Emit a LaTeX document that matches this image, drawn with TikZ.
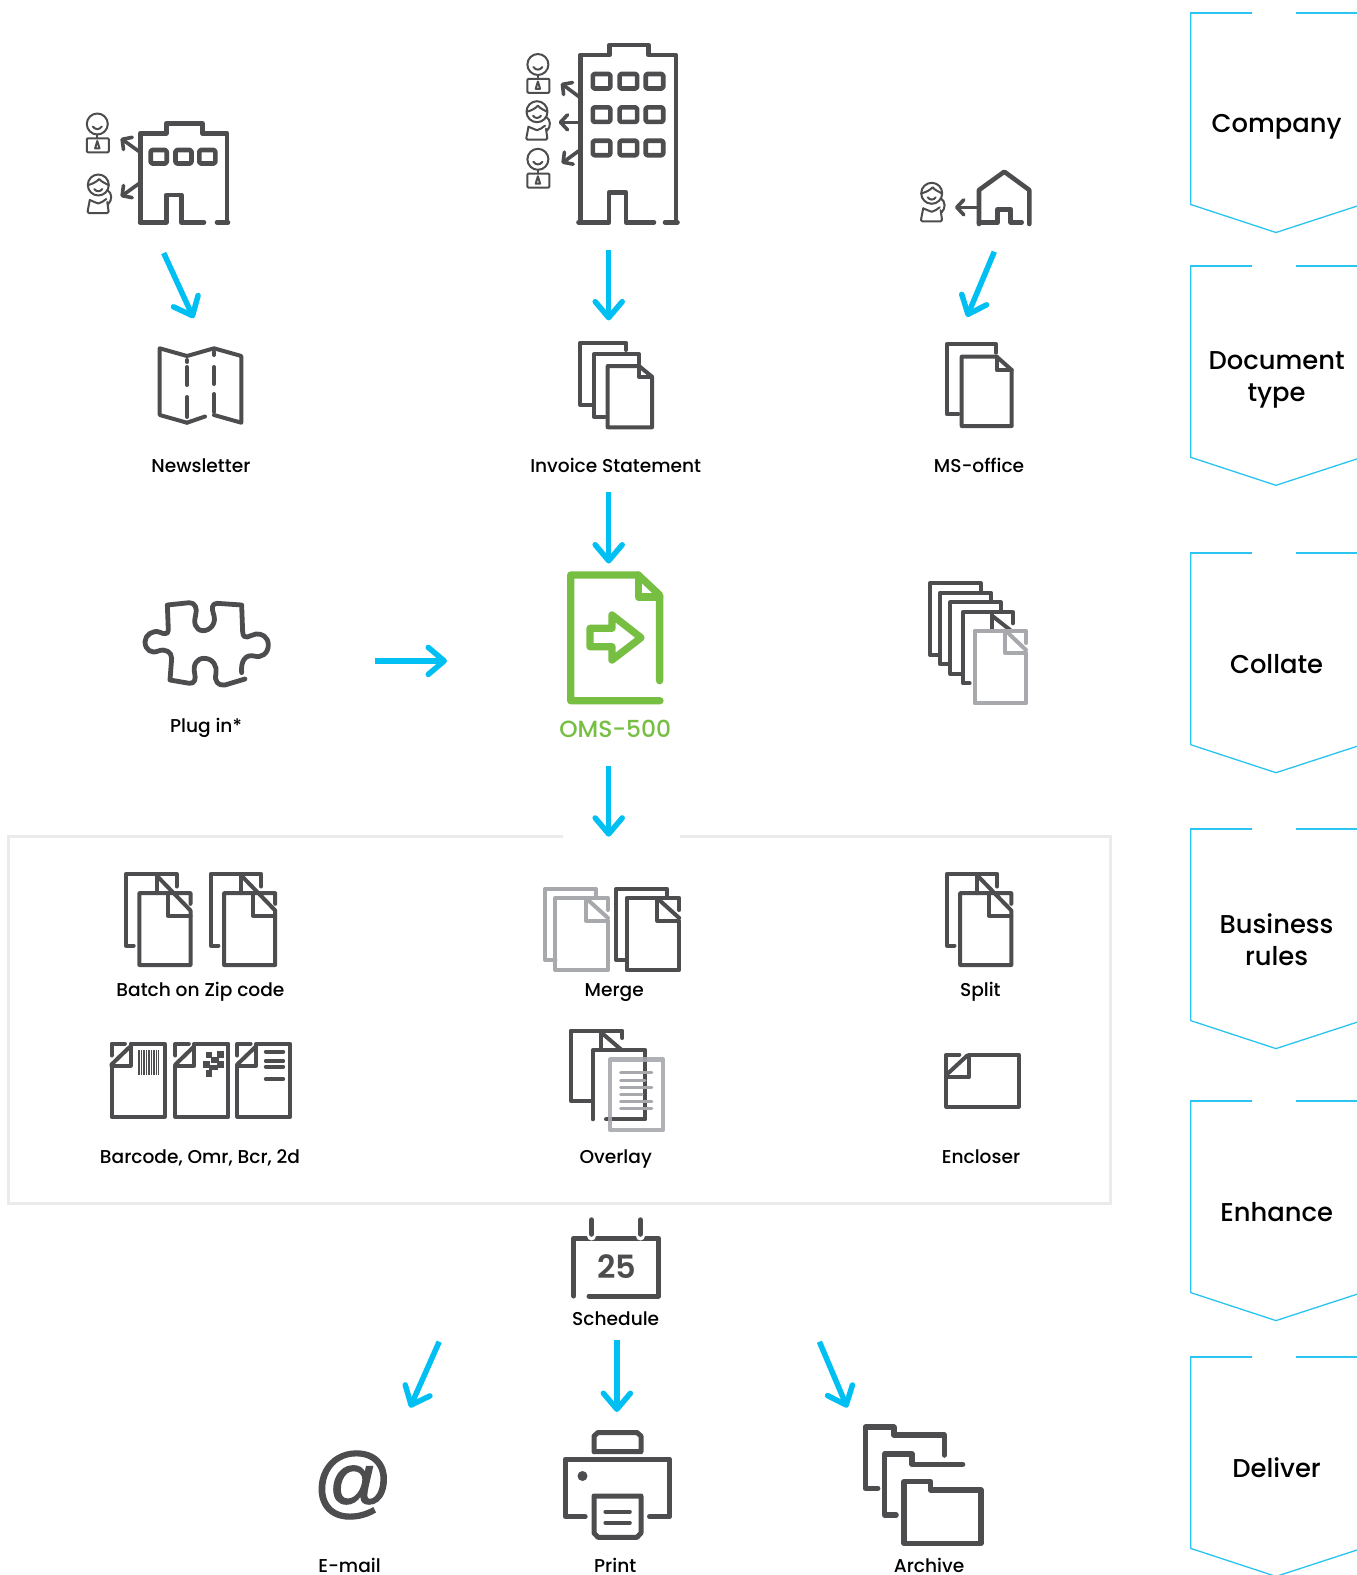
\documentclass[tikz,border=0pt]{standalone}
\usepackage{fontspec}
\setmainfont{Poppins}[UprightFont=* Medium,BoldFont=* SemiBold]
\newfontfamily\atfont{Liberation Sans}[ItalicFeatures={FakeBold=1.6}]
\usetikzlibrary{arrows.meta}
\definecolor{ink}{HTML}{4D4D4F}
\definecolor{pale}{HTML}{A7A9AC}
\definecolor{sky}{HTML}{00BFF3}
\definecolor{leaf}{HTML}{76BF43}
\definecolor{frame}{HTML}{EBEBEB}
\definecolor{tab}{HTML}{29C4F0}
\tikzset{
  icon/.style={draw=#1,line width=4pt,line join=round,line cap=round},
  icon/.default=ink,
  person/.style={draw=ink,line width=2pt,line join=round,line cap=round},
  flow/.style={draw=sky,line width=5.5pt,shorten >=-2pt,-{Straight Barb[length=16pt,width=27pt,round]}},
  out arrow/.style={draw=ink,line width=3.6pt,-{Straight Barb[length=7pt,width=15pt,round]}},
  lab/.style={anchor=base,inner sep=0pt,font=\fontsize{18.6}{22}\selectfont,text=black},
  big/.style={anchor=base,inner sep=0pt,font=\fontsize{25.8}{32}\selectfont,text=black},
  pics/man/.style={code={
    \draw[person] (0,0) circle (10.5);
    \draw[person] (-4.5,2.5) .. controls (-2,6) and (2,6) .. (4.5,2.5);
    \draw[person,rounded corners=1pt] (-10.5,14.3) rectangle (11.5,28.3);
    \draw[person] (0,10.5) -- (0,14.3);
    \draw[person] (-2.2,24.3) -- (2.2,24.3) -- (0,17) -- cycle;
  }},
  pics/woman/.style={code={
    \draw[person] (0,0) circle (10.5);
    \draw[person] (-10,0) .. controls (-6,-1) and (-2,-3) .. (1,-6) .. controls (3,-3) and (7,-2) .. (10,0);
    \draw[person] (-4,4) .. controls (-2,7) and (2,7) .. (4,4);
    \draw[person] (9,5) .. controls (14,8) and (14,15) .. (10,19);
    \draw[person,rounded corners=1.5pt] (-8.5,15) -- (-11,28) -- (10.5,28) -- (9,17);
    \draw[person] (-8.5,15) .. controls (-5,16) and (-3,18) .. (0,18.5) .. controls (3,18) and (5,16) .. (8,14);
  }},
  pics/pairdoc/.style={code={
    \draw[icon=#1] (7.7,71.7) -- (0,71.7) -- (0,0) -- (50.5,0) -- (50.5,12.7);
    \draw[icon=#1] (30.6,1.7) -- (30.6,19.4);
    \draw[icon=#1] (30.6,1.7) -- (64.5,36.7) -- (64.5,91.2) -- (13.4,91.2) -- (13.4,19.4) -- (64.5,19.4) -- (64.5,30);
    \draw[icon=#1] (42,19.4) -- (42,41.7) -- (64.5,41.7);
  }},
  pics/cornerdoc/.style={code={
    \draw[icon] (0,11.7) -- (0,0) -- (13.4,0);
    \draw[icon] (0,21.7) -- (0,72.9) -- (53,72.9) -- (53,0) -- (19,0) -- (19,21.7) -- (0,21.7);
    \draw[icon] (0,20.7) -- (18,3.3);
  }},
  pics/mergedoc/.style={code={
    \draw[icon=#1] (10.4,71) -- (0,71) -- (0,0) -- (51,0) -- (51,9);
    \draw[icon=#1] (41,9) -- (41,31.7) -- (63,31.7) -- (63,81) -- (10.4,81) -- (10.4,9) -- (63,9) -- (63,21);
    \draw[icon=#1] (43,11) -- (63,29);
  }},
}
\newcommand{\Flow}[3]{\coordinate (#1-a) at (#2);\coordinate (#1-b) at (#3);\draw[flow] (#1-a) -- (#1-b);}
\newcommand{\OutArrow}[3]{\coordinate (#1-a) at (#2);\coordinate (#1-b) at (#3);\draw[out arrow] (#1-a) -- (#1-b);}
\newcommand{\Tab}[1]{%
  \draw[tab,line width=1.3pt] (1190.7,#1) -- (1190.7,#1+191.6) -- (1276,#1+219.6) -- (1357,#1+193.2);
  \draw[tab,line width=2pt] (1251.7,#1) -- (1190.2,#1);
  \draw[tab,line width=2pt] (1296,#1) -- (1357,#1);}
\begin{document}
\begin{tikzpicture}[x=1pt,y=-1pt]
\useasboundingbox (0,0) rectangle (1357,1575);
\fill[white] (0,0) rectangle (1357,1575);

% ---- side tabs
\Tab{12.9}\Tab{265.7}\Tab{553.1}\Tab{829}\Tab{1101}\Tab{1356.8}
\node[big] (tcompany) at (1276.6,132.7) {Company};
\node[big] (tdoc1) at (1276.6,369.6) {Document};
\node[big] (tdoc2) at (1276.6,401.8) {type};
\node[big] (tcollate) at (1276.6,673) {Collate};
\node[big] (tbus1) at (1276.6,933) {Business};
\node[big] (tbus2) at (1276.6,965) {rules};
\node[big] (tenh) at (1276.6,1221.4) {Enhance};
\node[big] (tdel) at (1276.6,1477.5) {Deliver};

% ---- frame
\draw[frame,line width=3pt] (562.5,836.7) -- (8,836.7) -- (8,1203.3) -- (1110.5,1203.3) -- (1110.5,836.7) -- (680,836.7);

% ---- small building
\begin{scope}[icon/.append style={line width=4.6pt}]
\draw[icon] (140.2,222.3) -- (140.2,133.3) -- (166.2,133.3) -- (166.2,123.3) -- (202.2,123.3) -- (202.2,133.3) -- (227,133.3) -- (227,222.3);
\draw[icon] (140.2,222.3) -- (166.2,222.3) -- (166.2,195) -- (181.4,195) -- (181.4,222.3) -- (204,222.3);
\draw[icon] (217,222.3) -- (228,222.3);
\foreach \x in {150.7,175.5,199.3}
  \draw[icon,rounded corners=1.5pt] (\x,150) rectangle +(16,13.5);
% large building
\draw[icon] (580.4,222.3) -- (580.4,55) -- (609.4,55) -- (609.4,45) -- (648.5,45) -- (648.5,55) -- (675.8,55) -- (675.8,222.3);
\draw[icon] (578.5,222.3) -- (609,222.3) -- (609,192.7) -- (626,192.7) -- (626,222.3) -- (654,222.3);
\draw[icon] (665,222.3) -- (677.5,222.3);
\foreach \y in {74,107.4,140.7}
  \foreach \x in {592.8,619.6,645.7}
    \draw[icon,rounded corners=1.5pt] (\x,\y) rectangle +(17.5,14.5);
% house
\draw[icon] (979,224) -- (979,190) -- (1004.3,171.7) -- (1029.3,190) -- (1029.3,224);
\draw[icon] (979,222.3) -- (997.7,222.3) -- (997.7,209.3) -- (1010.7,209.3) -- (1010.7,222.3) -- (1021.7,222.3);
\end{scope}
\OutArrow{s1}{139.4,151.7}{120.7,138.3}
\OutArrow{s2}{139.4,183.3}{120.7,196.7}
\OutArrow{l1}{579,96.7}{561,83.3}
\OutArrow{l2}{579,122.3}{558.7,122.3}
\OutArrow{l3}{579,150.7}{561.7,163.3}
\OutArrow{h1}{979,207.3}{955,207.3}
\pic at (97.3,124) {man};
\pic at (98.3,185) {woman};
\pic at (537.9,64.5) {man};
\pic at (537,111.7) {woman};
\pic at (537.9,159.3) {man};
\pic at (931.7,193.3) {woman};

% ---- flows
\Flow{a1}{163.7,253}{192.8,316.4}
\Flow{a2}{608.7,250}{608.7,318.4}
\Flow{a3}{994.3,251.7}{967.7,315}
\Flow{a4}{608.7,492}{608.7,561.5}
\Flow{a5}{374.6,660.9}{445,660.9}
\Flow{a6}{608.7,766.4}{608.7,834.7}
\Flow{a7}{439.2,1341.7}{410.8,1405.7}
\Flow{a8}{616.9,1340}{616.9,1410}
\Flow{a9}{819.4,1341.7}{846.5,1405.7}

% ---- map
\draw[icon] (187,422.7) -- (159.7,415) -- (159.7,348.3) -- (187,356) -- (214,348.3) -- (241.3,356) -- (241.3,422.7) -- (214,415);
\draw[icon] (187,422.7) -- (205,416.5);
\draw[icon] (187,360) -- (187,362);
\draw[icon] (187,367) -- (187,385);
\draw[icon] (187,397) -- (187,417);
\draw[icon] (214,367) -- (214,384);
\draw[icon] (214,394) -- (214,412);
\draw[icon] (214,352) -- (214,355);

% ---- three docs
\draw[icon] (592,405) -- (580.4,405) -- (580.4,342.7) -- (626,342.7) -- (626,350);
\draw[icon] (605,416.7) -- (594,416.7) -- (594,354) -- (639,354) -- (639,364);
\draw[icon] (607.7,366) -- (639,366) -- (652,376.7) -- (652,427.3) -- (607.7,427.3) -- cycle;
\draw[icon] (639,366) -- (639,376.7) -- (652,376.7);

% ---- ms office
\draw[icon] (958.3,414) -- (946.7,414) -- (946.7,344.3) -- (996,344.3) -- (996,352.7);
\draw[icon] (961.7,356.7) -- (996.7,356.7) -- (1011.7,370) -- (1011.7,426) -- (961.7,426) -- cycle;
\draw[icon] (996.7,356.7) -- (996.7,370) -- (1011.7,370);

% ---- labels row 1
\node[lab] (newsletter) at (200.9,472) {Newsletter};
\node[lab] (invoice) at (615.7,472) {Invoice Statement};
\node[lab] (office) at (979,472) {MS-office};

% ---- puzzle
\begin{scope}[shift={(130,590)},x=0.3333pt,y=-0.3333pt]
\draw[icon,line width=4.8pt] (335,248) .. controls (332,215) and (345,192) .. (372,198)
  .. controls (395,205) and (415,190) .. (415,165)
  .. controls (415,140) and (395,130) .. (378,132)
  .. controls (360,135) and (340,155) .. (338,125)
  -- (335,45) -- (262,40)
  .. controls (245,40) and (245,55) .. (250,70)
  .. controls (262,100) and (240,122) .. (220,122)
  .. controls (195,122) and (190,95) .. (197,75)
  .. controls (203,55) and (195,38) .. (178,38)
  -- (112,45) -- (115,120)
  .. controls (115,135) and (100,132) .. (90,127)
  .. controls (70,118) and (45,135) .. (45,155)
  .. controls (45,180) and (65,192) .. (85,183)
  .. controls (105,175) and (125,185) .. (125,205)
  -- (120,270) -- (178,280)
  .. controls (195,282) and (198,265) .. (194,250)
  .. controls (188,225) and (200,205) .. (222,205)
  .. controls (250,205) and (262,230) .. (258,250)
  .. controls (252,275) and (265,288) .. (285,285)
  -- (345,267);
\end{scope}
\node[lab] (plugin) at (206,732.2) {Plug in*};

% ---- OMS
\begin{scope}[icon/.append style={draw=leaf,line width=7.3pt}]
\draw[icon] (659.6,680.7) -- (659.6,595) -- (638.3,575) -- (570.7,575) -- (570.7,700.7) -- (660,700.7);
\draw[icon] (638.3,575) -- (638.3,597) -- (659.6,597);
\draw[icon] (590,628.3) -- (612,628.3) -- (612,615) -- (641,637.7) -- (612,660) -- (612,646.7) -- (590,646.7) -- cycle;
\end{scope}
\node[anchor=base,inner sep=0pt,text=leaf,font=\fontsize{23.4}{28}\selectfont] (oms) at (615.2,737) {OMS-500};

% ---- collate
\draw[icon] (939,655) -- (930,655) -- (930,583.3) -- (980.5,583.3) -- (980.5,590.7);
\draw[icon] (949.3,664.3) -- (940.2,664.3) -- (940.2,592.7) -- (990.6,592.7) -- (990.6,600.7);
\draw[icon] (961,674) -- (950.4,674) -- (950.4,602.3) -- (1000.7,602.3) -- (1000.7,610);
\draw[icon] (969.6,683.3) -- (962.9,683.3) -- (962.9,612.3) -- (1012.9,612.3) -- (1012.9,623.3);
\draw[icon] (991.6,612.3) -- (991.6,630);
\draw[icon] (993.3,616.7) -- (1010.2,630);
\draw[icon=pale] (1026,643) -- (1026,630.7) -- (974.7,630.7) -- (974.7,703.3) -- (1026,703.3) -- (1026,652.7) -- (1005,652.7) -- (1005,630.7);
\draw[icon=pale] (1007,632) -- (1026,650);

% ---- business rules
\pic at (126,873.8) {pairdoc=ink};
\pic at (210.7,873.8) {pairdoc=ink};
\pic at (946.8,873.8) {pairdoc=ink};
\pic at (545,889) {mergedoc=pale};
\pic at (616.2,889) {mergedoc=ink};
\node[lab] (batch) at (200.4,996.4) {Batch on Zip code};
\node[lab] (merge) at (614.2,996.4) {Merge};
\node[lab] (split) at (980.3,996.4) {Split};

% ---- enhance
\pic at (111.5,1043.8) {cornerdoc};
\pic at (175.4,1043.8) {cornerdoc};
\pic at (237.2,1043.8) {cornerdoc};
\fill[ink] (137.5,1050) rectangle (159.3,1075);
\foreach \x in {139.6,142.4,144.5,147.2,149.9,152.2,154.8,157.2}
  \fill[white] (\x,1050) rectangle +(.6,25);
\foreach \x/\y/\w/\h in {206/1052/6/6,217/1051/7/7,211/1057/8/6,203/1061/7/7,217/1061/7/7,209/1065/9/5,205.5/1070/6.5/7}
  \fill[ink] (\x,\y) rectangle +(\w,\h);
\foreach \y in {1051.7,1061,1066.7,1079}
  \draw[icon] (265.8,\y) -- (283.2,\y);
% overlay
\draw[icon] (591.8,1100.7) -- (570.7,1100.7) -- (570.7,1030.7) -- (622.4,1030.7) -- (622.4,1038);
\draw[icon] (601.3,1032.7) -- (601.3,1050);
\draw[icon] (603,1034) -- (620.5,1049);
\draw[icon] (592.9,1119.3) -- (592.9,1050) -- (645.4,1050) -- (645.4,1119.3) -- (606,1119.3);
\draw[draw=pale,line width=4.4pt,line join=round,opacity=.9] (610.2,1059.3) rectangle (663,1130);
\foreach \y/\e in {1072.7/651.8,1080/645,1087.3/651.8,1094.3/642,1101.7/651.8,1108.3/651.8}
  \draw[draw=pale,line width=3pt,line cap=round] (620.5,\y) -- (\e,\y);
% encloser
\draw[icon] (959.3,1054.7) -- (946.2,1054.7) -- (946.2,1106.7) -- (1018.8,1106.7) -- (1018.8,1054.7) -- (969.3,1054.7) -- (969.3,1076.7) -- (946.2,1076.7);
\draw[icon] (946.2,1075) -- (967.3,1055.5);
\node[lab] (barcode) at (200,1163) {Barcode, Omr, Bcr, 2d};
\node[lab] (overlay) at (615.7,1163) {Overlay};
\node[lab] (encloser) at (981,1163) {Encloser};

% ---- schedule
\draw[icon,line width=5pt] (573.7,1296) -- (573.7,1238.3) -- (658.7,1238.3) -- (658.7,1296) -- (589,1296);
\foreach \x in {591.6,640.3}{
  \draw[white,line width=9pt,line cap=round] (\x,1234) -- (\x,1236);
  \draw[icon,line width=5.5pt] (\x,1220) -- (\x,1234);}
\node[anchor=center,inner sep=0pt,text=ink,font=\fontsize{32}{36}\bfseries] (day) at (617,1267) {25};
\node[lab] (schedule) at (615.7,1325) {Schedule};

% ---- deliver
\node[anchor=center,inner sep=0pt,text=ink,font=\atfont\itshape\fontsize{79}{84}\selectfont] (at) at (351.8,1485) {@};
\node[lab] (email) at (349.5,1572) {E-mail};
% printer
\draw[icon,line width=5pt] (594,1451.7) -- (594,1436) -- (598,1432.5) -- (637,1432.5) -- (641,1436) -- (641,1451.7) -- cycle;
\draw[icon,line width=5pt] (585.2,1516.7) -- (565.5,1516.7) -- (565.5,1459) -- (669.7,1459) -- (669.7,1516.7) -- (649.5,1516.7);
\draw[icon,line width=5pt] (594,1496) -- (641,1496) -- (641,1533) -- (637,1537.3) -- (598,1537.3) -- (594,1533) -- cycle;
\draw[icon] (605.4,1511.7) -- (629.8,1511.7);
\draw[icon] (605.4,1522.7) -- (629.8,1522.7);
\fill[ink] (582.5,1476) circle (5);
\node[lab] (print) at (615.2,1572) {Print};
% folders
\draw[icon,line width=5.5pt] (877.7,1488.3) -- (865.3,1488.3) -- (865.3,1427.2) -- (893.8,1427.2) -- (893.8,1435) -- (944.3,1435) -- (944.3,1455);
\draw[icon,line width=5.5pt] (896,1515) -- (884.6,1515) -- (884.6,1454) -- (912,1454) -- (912,1464.3) -- (962.6,1464.3);
\draw[icon,line width=5.5pt] (903.9,1543.3) -- (903.9,1481.7) -- (930.5,1481.7) -- (930.5,1490) -- (981,1490) -- (981,1543.3) -- cycle;
\node[lab] (archive) at (929,1572) {Archive};
\end{tikzpicture}
\end{document}
